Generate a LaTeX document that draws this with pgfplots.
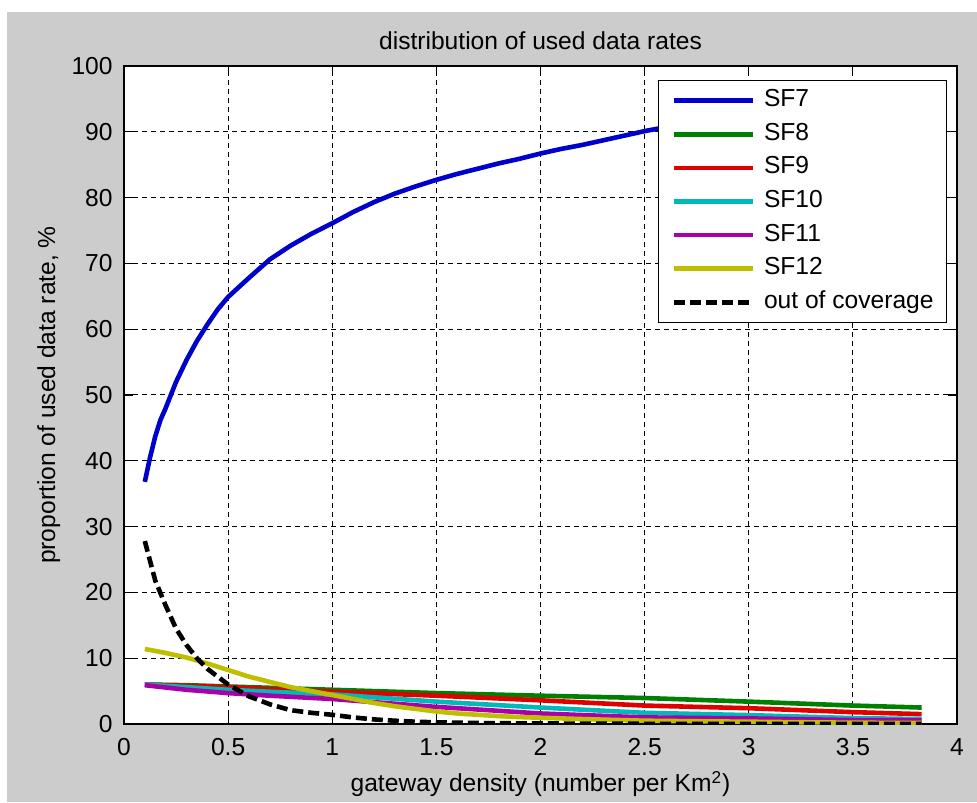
\documentclass[border=0pt]{standalone}
\usepackage{fontspec}
\setmainfont{Liberation Sans}
\usepackage{pgfplots}
\pgfplotsset{compat=1.18}
\definecolor{figgray}{RGB}{204,204,204}
\definecolor{mblue}{RGB}{0,0,205}
\definecolor{mgreen}{RGB}{0,128,0}
\definecolor{mred}{RGB}{225,0,0}
\definecolor{mcyan}{RGB}{0,185,185}
\definecolor{mmagenta}{RGB}{170,0,170}
\definecolor{myellow}{RGB}{191,191,0}
\begin{document}
\fontsize{12.3}{14}\selectfont
\begin{tikzpicture}[font=\fontsize{12.3}{14}\selectfont]
\useasboundingbox (-62pt,-39pt) rectangle (426.5pt,362pt);
\fill[white] (-62pt,-39pt) rectangle (426.5pt,362pt);
\fill[figgray] (-58.5pt,-39pt) rectangle (426.5pt,356pt);
\begin{axis}[
  scale only axis, width=416.5pt, height=329pt,
  xmin=0, xmax=4, ymin=0, ymax=100,
  xtick={0,0.5,1,1.5,2,2.5,3,3.5,4},
  ytick={0,10,20,30,40,50,60,70,80,90,100},
  /pgf/number format/assume math mode=true,
  ticklabel style={font=\fontsize{12.3}{14}\selectfont},
  xticklabel style={anchor=north, inner sep=0pt, yshift=-7pt},
  yticklabel style={anchor=east, inner sep=0pt, xshift=-5.5pt},
  tick align=inside, major tick length=4.5pt,
  tick style={black, line width=0.6pt},
  axis line style={black, line width=0.6pt},
  axis background/.style={fill=white},
  grid=major,
  major grid style={black, line width=0.5pt, dash pattern=on 2.5pt off 2pt},
  title={distribution of used data rates},
  every axis title/.style={at={(axis description cs:0.5,1.0243)}, anchor=base, inner sep=0pt},
  xlabel={gateway density (number per Km\textsuperscript{2})},
  xlabel style={at={(axis description cs:0.5,-0.1033)}, anchor=base, inner sep=0pt},
  ylabel={proportion of used data rate, \%},
  ylabel style={at={(axis description cs:-0.0828,0.5)}, anchor=base, inner sep=0pt},
  legend cell align=left,
  legend image code/.code={\draw[#1] (0pt,0pt) -- (39.5pt,0pt); \path (44pt,0pt);},
  legend style={at={(axis description cs:0.988,0.9787)}, anchor=north east,
    draw=black, fill=white, inner xsep=6.5pt, inner ysep=4.2pt, row sep=5pt,
    nodes={inner sep=0pt, text height=8.9pt, text depth=2.9pt},
    font=\fontsize{12.3}{14}\selectfont},
]
\addplot[mblue, line width=2.3pt] coordinates {
(0.10,36.8) (0.125,40.5) (0.15,43.7) (0.175,46.2) (0.2,48.0) (0.25,52.0)
(0.3,55.3) (0.35,58.2) (0.4,60.7) (0.45,63.0) (0.5,64.9) (0.6,67.8)
(0.7,70.6) (0.8,72.7) (0.9,74.5) (1.0,76.1) (1.1,77.8) (1.2,79.3)
(1.3,80.6) (1.4,81.7) (1.5,82.7) (1.6,83.6) (1.7,84.4) (1.8,85.2)
(1.9,85.9) (2.0,86.7) (2.1,87.4) (2.2,88.0) (2.3,88.7) (2.4,89.4)
(2.5,90.1) (2.6,90.7) (2.7,91.2) (2.8,91.7) (2.9,92.1) (3.0,92.5)
(3.2,93.3) (3.4,94.0) (3.6,94.6) (3.83,95.2)};
\addlegendentry{SF7}
\addplot[mgreen, line width=2.3pt] coordinates {
(0.1,6.0) (0.3,5.9) (0.5,5.7) (0.7,5.5) (1.0,5.2) (1.2,5.0) (1.5,4.7)
(2.0,4.3) (2.5,3.95) (3.0,3.4) (3.5,2.8) (3.83,2.5)};
\addlegendentry{SF8}
\addplot[mred, line width=2.3pt] coordinates {
(0.1,6.0) (0.3,5.8) (0.5,5.6) (0.7,5.3) (1.0,4.9) (1.5,4.3) (2.0,3.6)
(2.5,2.8) (3.0,2.4) (3.5,1.8) (3.83,1.5)};
\addlegendentry{SF9}
\addplot[mcyan, line width=2.3pt] coordinates {
(0.1,6.0) (0.3,5.6) (0.5,5.2) (0.7,4.9) (1.0,4.5) (1.5,3.4) (2.0,2.5)
(2.5,1.7) (3.0,1.35) (3.5,0.9) (3.83,0.75)};
\addlegendentry{SF10}
\addplot[mmagenta, line width=2.3pt] coordinates {
(0.1,5.9) (0.3,5.2) (0.5,4.7) (0.7,4.3) (1.0,3.8) (1.5,2.6) (2.0,1.6)
(2.5,1.0) (3.0,0.85) (3.5,0.6) (3.83,0.55)};
\addlegendentry{SF11}
\addplot[myellow, line width=2.3pt] coordinates {
(0.1,11.4) (0.2,10.8) (0.3,10.1) (0.4,9.2) (0.5,8.2) (0.6,7.2) (0.7,6.4)
(0.8,5.6) (0.9,5.0) (1.0,4.4) (1.1,3.8) (1.2,3.2) (1.3,2.7) (1.4,2.3)
(1.5,1.9) (1.6,1.6) (1.7,1.4) (1.8,1.2) (1.9,1.05) (2.0,0.95) (2.2,0.75)
(2.5,0.5) (2.8,0.4) (3.0,0.35) (3.3,0.25) (3.5,0.2) (3.83,0.15)};
\addlegendentry{SF12}
\addplot[black, line width=2.3pt, dash pattern=on 5.5pt off 2.5pt] coordinates {
(0.1,27.8) (0.15,21.8) (0.2,18.0) (0.25,14.5) (0.3,12.0) (0.35,10.0)
(0.4,8.4) (0.5,6.0) (0.6,4.2) (0.7,3.0) (0.8,2.1) (0.9,1.7) (1.0,1.4)
(1.1,1.0) (1.2,0.7) (1.3,0.5) (1.4,0.35) (1.5,0.25) (1.7,0.15) (2.0,0.08)
(2.5,0.03) (3.0,0.01) (3.83,0.0)};
\addlegendentry{out of coverage}
\end{axis}
\end{tikzpicture}
\end{document}
